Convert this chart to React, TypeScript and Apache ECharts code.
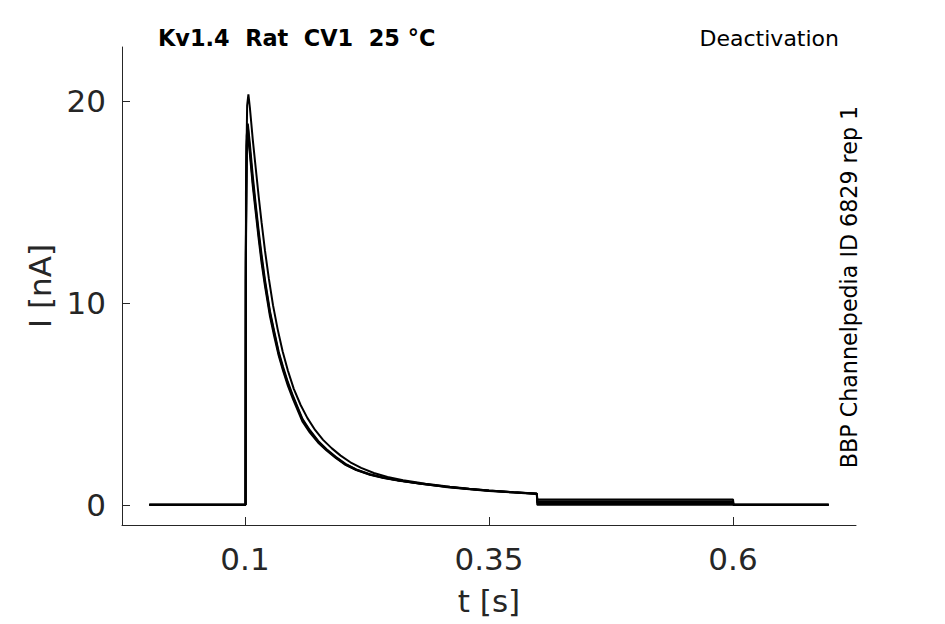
import React, { useEffect, useRef } from "react";
import * as echarts from "echarts";

// time [s], current [nA]
const traceHigh: [number, number][] = [
  [0.002, 0], [0.1008, 0], [0.101, 15.5], [0.1022, 19.8], [0.1035, 20.35],
  [0.105, 19.7], [0.108, 18.1], [0.111, 16.7], [0.114, 15.3], [0.117, 14.0],
  [0.1205, 12.6], [0.1245, 11.2], [0.1287, 9.9], [0.1335, 8.7], [0.1386, 7.6],
  [0.144, 6.65], [0.15, 5.75], [0.157, 4.95], [0.164, 4.3], [0.172, 3.7],
  [0.18, 3.22], [0.189, 2.8], [0.198, 2.44], [0.208, 2.11], [0.219, 1.83],
  [0.232, 1.58], [0.246, 1.38], [0.262, 1.22], [0.285, 1.05], [0.31, 0.9],
  [0.33, 0.8], [0.35, 0.71], [0.375, 0.63], [0.399, 0.56],
  [0.3995, 0.27], [0.6, 0.27], [0.6005, 0], [0.698, 0],
];

const traceMid: [number, number][] = [
  [0.002, 0], [0.1005, 0], [0.1008, 12], [0.1018, 18.0], [0.103, 18.7],
  [0.105, 17.6], [0.108, 16.0], [0.111, 14.7], [0.114, 13.4], [0.117, 12.2],
  [0.1205, 11.0], [0.1256, 9.5], [0.13, 8.5], [0.1345, 7.5], [0.139, 6.75],
  [0.144, 6.0], [0.1495, 5.3], [0.159, 4.2], [0.1665, 3.65], [0.175, 3.13],
  [0.1836, 2.73], [0.193, 2.35], [0.203, 2.0], [0.214, 1.74], [0.228, 1.5],
  [0.242, 1.34], [0.258, 1.2], [0.28, 1.05], [0.305, 0.9], [0.33, 0.78],
  [0.35, 0.7], [0.375, 0.62], [0.399, 0.55],
  [0.3995, 0.18], [0.6, 0.18], [0.6005, 0], [0.698, 0],
];

const traceLow: [number, number][] = [
  [0.002, 0], [0.1005, 0], [0.1008, 11], [0.1018, 17.8], [0.1028, 18.4],
  [0.105, 17.4], [0.108, 15.8], [0.111, 14.5], [0.114, 13.2], [0.117, 12.0],
  [0.1205, 10.85], [0.1256, 9.35], [0.13, 8.35], [0.1345, 7.4], [0.139, 6.65],
  [0.144, 5.9], [0.1495, 5.2], [0.159, 4.12], [0.1665, 3.58], [0.175, 3.08],
  [0.1836, 2.69], [0.193, 2.32], [0.203, 1.98], [0.214, 1.72], [0.228, 1.49],
  [0.242, 1.33], [0.258, 1.19], [0.28, 1.04], [0.305, 0.89], [0.33, 0.77],
  [0.35, 0.69], [0.375, 0.61], [0.399, 0.54],
  [0.3995, 0.0], [0.6, 0.0], [0.6005, 0], [0.698, 0],
];

const traceFourth: [number, number][] = [
  [0.002, 0], [0.1005, 0], [0.1008, 12.5], [0.1018, 18.3], [0.1029, 18.9],
  [0.105, 17.9], [0.108, 16.3], [0.111, 14.9], [0.114, 13.6], [0.117, 12.4],
  [0.1205, 11.15], [0.1256, 9.6], [0.13, 8.6], [0.1345, 7.6], [0.139, 6.85],
  [0.144, 6.08], [0.1495, 5.36], [0.159, 4.25], [0.1665, 3.7], [0.175, 3.17],
  [0.1836, 2.76], [0.193, 2.38], [0.203, 2.03], [0.214, 1.76], [0.228, 1.52],
  [0.242, 1.35], [0.258, 1.21], [0.28, 1.06], [0.305, 0.91], [0.33, 0.79],
  [0.35, 0.71], [0.375, 0.62], [0.399, 0.55],
  [0.3995, 0.09], [0.6, 0.09], [0.6005, 0], [0.698, 0],
];

const xTicks = [0.1, 0.35, 0.6];
const yTicks = [0, 10, 20];

const titleText = "Kv1.4  Rat  CV1  25 °C";
const protocolText = "Deactivation";
const sourceText = "BBP Channelpedia ID 6829 rep 1";

const FONT = "DejaVu Sans";
const INK = "#262626";

const App: React.FC = () => {
  const chartRef = useRef<HTMLDivElement>(null);

  useEffect(() => {
    if (!chartRef.current) return;
    const chart = echarts.init(chartRef.current, undefined, { renderer: "svg" });

    const traceSeries = [traceHigh, traceMid, traceLow, traceFourth].map((d) => ({
      type: "line",
      data: d,
      showSymbol: false,
      symbol: "none",
      lineStyle: { color: "#000000", width: 2 },
      z: 3,
    }));

    chart.setOption({
      animation: false,
      grid: { left: 122, right: 89, top: 47, bottom: 99, containLabel: false },
      xAxis: {
        type: "value",
        min: -0.026,
        max: 0.726,
        name: "t [s]",
        nameLocation: "middle",
        nameGap: 60,
        nameTextStyle: { fontFamily: FONT, fontSize: 31, color: INK },
        axisLine: { show: true, onZero: false, lineStyle: { color: INK, width: 1 } },
        axisTick: {
          show: true,
          inside: true,
          length: 8,
          customValues: xTicks,
          lineStyle: { color: INK },
        },
        axisLabel: {
          customValues: xTicks,
          margin: 18,
          fontFamily: FONT,
          fontSize: 31,
          color: INK,
          formatter: (v: number) => String(v),
        },
        splitLine: { show: false },
      },
      yAxis: {
        type: "value",
        min: -1,
        max: 22.7,
        name: "I [nA]",
        nameLocation: "middle",
        nameGap: 67,
        nameTextStyle: { fontFamily: FONT, fontSize: 31, color: INK },
        axisLine: { show: true, onZero: false, lineStyle: { color: INK, width: 1 } },
        axisTick: {
          show: true,
          inside: true,
          length: 8,
          customValues: yTicks,
          lineStyle: { color: INK },
        },
        axisLabel: {
          customValues: yTicks,
          margin: 16,
          fontFamily: FONT,
          fontSize: 31,
          color: INK,
        },
        splitLine: { show: false },
      },
      graphic: [
        {
          type: "text",
          left: 158,
          top: 27,
          style: {
            text: titleText,
            fontFamily: FONT,
            fontWeight: "bold",
            fontSize: 22.4,
            fill: "#000000",
          },
        },
        {
          type: "text",
          right: 106,
          top: 27,
          style: {
            text: protocolText,
            fontFamily: FONT,
            fontSize: 22,
            fill: "#000000",
          },
        },
        {
          type: "text",
          x: 849,
          y: 287,
          rotation: Math.PI / 2,
          style: {
            text: sourceText,
            fontFamily: FONT,
            fontSize: 22.2,
            fill: "#000000",
            align: "center",
            verticalAlign: "middle",
          },
        },
      ],
      series: traceSeries,
    });

    return () => {
      chart.dispose();
    };
  }, []);

  return (
    <div
      ref={chartRef}
      style={{ position: "fixed", left: 0, top: 0, width: 945, height: 624, background: "#ffffff" }}
    />
  );
};

export default App;
